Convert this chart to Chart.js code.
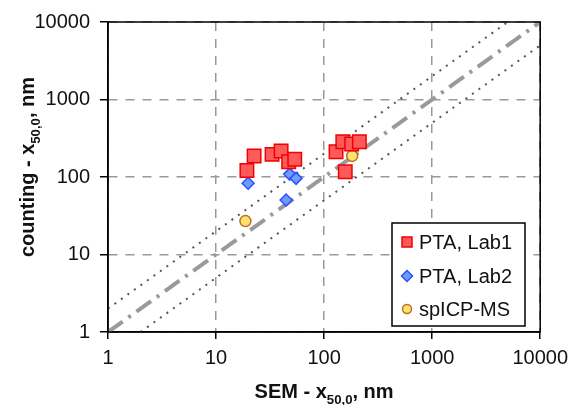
<!DOCTYPE html>
<html>
<head>
    <meta charset="utf-8">
    <script src="https://cdn.jsdelivr.net/npm/chart.js@4/dist/chart.umd.min.js"></script>
    <style>
        html, body { margin: 0; padding: 0; background: #fff; }
        canvas { display: block; }
    </style>
</head>
<body>
    <canvas id="chart" width="575" height="405"></canvas>

    <script>
        // Data (x = SEM, y = counting), nm
        const lab1X = [19.3, 22.5, 33, 40, 47, 53.5, 129, 149, 180, 212, 157];
        const lab1Y = [121, 187, 196, 216, 157, 169, 212, 285, 267, 285, 117];
        const lab2X = [19.8, 48, 55, 44.5];
        const lab2Y = [83, 109, 96, 50.5];
        const icpX = [18.7, 182];
        const icpY = [27, 187];

        const tickValues = [1, 10, 100, 1000, 10000];
        const seriesNames = ['PTA, Lab1', 'PTA, Lab2', 'spICP-MS'];

        // reference lines: 1:1 and factor 2 either side
        const oneToOne = [[1, 1], [10000, 10000]];
        const upperBand = [[1, 2], [5000, 10000]];
        const lowerBand = [[2, 1], [10000, 5000]];

        const toPoints = (xs, ys) => xs.map((x, i) => ({ x: x, y: ys[i] }));
        const toLine = pairs => pairs.map(p => ({ x: p[0], y: p[1] }));

        const FONT = '"Liberation Sans", Arial, sans-serif';

        // draw text with a subscript part, centred on the origin
        function drawRich(ctx, parts, size) {
            let w = 0;
            parts.forEach(p => {
                ctx.font = 'bold ' + (p.sub ? size * 0.66 : size) + 'px ' + FONT;
                p.w = ctx.measureText(p.t).width;
                w += p.w;
            });
            let x = -w / 2;
            parts.forEach(p => {
                ctx.font = 'bold ' + (p.sub ? size * 0.66 : size) + 'px ' + FONT;
                ctx.fillText(p.t, x, p.sub ? size * 0.3 : 0);
                x += p.w;
            });
        }

        const extras = {
            id: 'extras',
            afterDraw(chart) {
                const ctx = chart.ctx;
                const a = chart.chartArea;
                ctx.save();
                // frame
                ctx.strokeStyle = '#000';
                ctx.lineWidth = 1.5;
                ctx.strokeRect(a.left, a.top, a.right - a.left, a.bottom - a.top);

                // axis titles
                ctx.fillStyle = '#111';
                ctx.textBaseline = 'alphabetic';
                ctx.textAlign = 'left';
                ctx.save();
                ctx.translate((a.left + a.right) / 2, 398);
                drawRich(ctx, [{ t: 'SEM - x' }, { t: '50,0', sub: true }, { t: ', nm' }], 20);
                ctx.restore();

                ctx.save();
                ctx.translate(34, 167);
                ctx.rotate(-Math.PI / 2);
                drawRich(ctx, [{ t: 'counting - x' }, { t: '50,0', sub: true }, { t: ', nm' }], 20);
                ctx.restore();

                // legend box inside the plot
                const bx = 392, by = 223, bw = 133, bh = 103;
                ctx.fillStyle = '#fff';
                ctx.fillRect(bx, by, bw, bh);
                ctx.strokeStyle = '#000';
                ctx.lineWidth = 1.5;
                ctx.strokeRect(bx, by, bw, bh);
                const rows = [242, 276, 309];
                ctx.font = '20px ' + FONT;
                ctx.textBaseline = 'middle';
                seriesNames.forEach((name, i) => {
                    const ds = chart.data.datasets[i];
                    const cx = 407, cy = rows[i];
                    ctx.fillStyle = ds.backgroundColor;
                    ctx.strokeStyle = ds.borderColor;
                    ctx.lineWidth = ds.borderWidth;
                    ctx.beginPath();
                    if (ds.pointStyle === 'rect') {
                        ctx.rect(cx - 5, cy - 5, 10, 10);
                    } else if (ds.pointStyle === 'rectRot') {
                        ctx.moveTo(cx, cy - 5.5);
                        ctx.lineTo(cx + 5.5, cy);
                        ctx.lineTo(cx, cy + 5.5);
                        ctx.lineTo(cx - 5.5, cy);
                        ctx.closePath();
                    } else {
                        ctx.arc(cx, cy, 4.5, 0, Math.PI * 2);
                    }
                    ctx.fill();
                    ctx.stroke();
                    ctx.fillStyle = '#111';
                    ctx.fillText(name, 419, cy + 1);
                });
                ctx.restore();
            }
        };

        const decadesOnly = scale => {
            scale.ticks = tickValues.map(v => ({ value: v }));
        };

        new Chart(document.getElementById('chart'), {
            type: 'scatter',
            data: {
                datasets: [{
                    label: seriesNames[0],
                    data: toPoints(lab1X, lab1Y),
                    pointStyle: 'rect',
                    pointRadius: 9.5,
                    backgroundColor: '#ff5a5a',
                    borderColor: '#f00000',
                    borderWidth: 1.5
                }, {
                    label: seriesNames[1],
                    data: toPoints(lab2X, lab2Y),
                    pointStyle: 'rectRot',
                    pointRadius: 6,
                    backgroundColor: '#6f9bff',
                    borderColor: '#2a50ff',
                    borderWidth: 1.5
                }, {
                    label: seriesNames[2],
                    data: toPoints(icpX, icpY),
                    pointStyle: 'circle',
                    pointRadius: 5.5,
                    backgroundColor: '#ffe36a',
                    borderColor: '#b8702a',
                    borderWidth: 1.5
                }, {
                    data: toLine(oneToOne),
                    showLine: true,
                    pointRadius: 0,
                    borderColor: '#9a9a9a',
                    borderWidth: 4,
                    borderDash: [18, 7, 3, 7]
                }, {
                    data: toLine(upperBand),
                    showLine: true,
                    pointRadius: 0,
                    borderColor: '#555',
                    borderWidth: 2,
                    borderDash: [2, 6]
                }, {
                    data: toLine(lowerBand),
                    showLine: true,
                    pointRadius: 0,
                    borderColor: '#555',
                    borderWidth: 2,
                    borderDash: [2, 6]
                }]
            },
            options: {
                responsive: false,
                animation: false,
                layout: { padding: { top: 22, right: 32, left: 0, bottom: 0 } },
                plugins: {
                    legend: { display: false },
                    tooltip: { enabled: false }
                },
                scales: {
                    x: {
                        type: 'logarithmic',
                        min: 1,
                        max: 10000,
                        afterBuildTicks: decadesOnly,
                        afterFit: s => { s.height = 73; },
                        grid: {
                            color: '#999',
                            lineWidth: 1.5,
                            tickColor: '#000',
                            tickLength: 7
                        },
                        border: { color: '#000', width: 1.5, dash: [9, 8] },
                        ticks: {
                            padding: 7,
                            color: '#111',
                            maxRotation: 0,
                            font: { family: FONT, size: 20 },
                            callback: v => String(v)
                        }
                    },
                    y: {
                        type: 'logarithmic',
                        min: 1,
                        max: 10000,
                        afterBuildTicks: decadesOnly,
                        afterFit: s => { s.width = 108; },
                        grid: {
                            color: '#999',
                            lineWidth: 1.5,
                            tickColor: '#000',
                            tickLength: 8
                        },
                        border: { color: '#000', width: 1.5, dash: [9, 8] },
                        ticks: {
                            padding: 10,
                            color: '#111',
                            font: { family: FONT, size: 20 },
                            callback: v => String(v)
                        }
                    }
                }
            },
            plugins: [extras]
        });
    </script>
</body>
</html>
